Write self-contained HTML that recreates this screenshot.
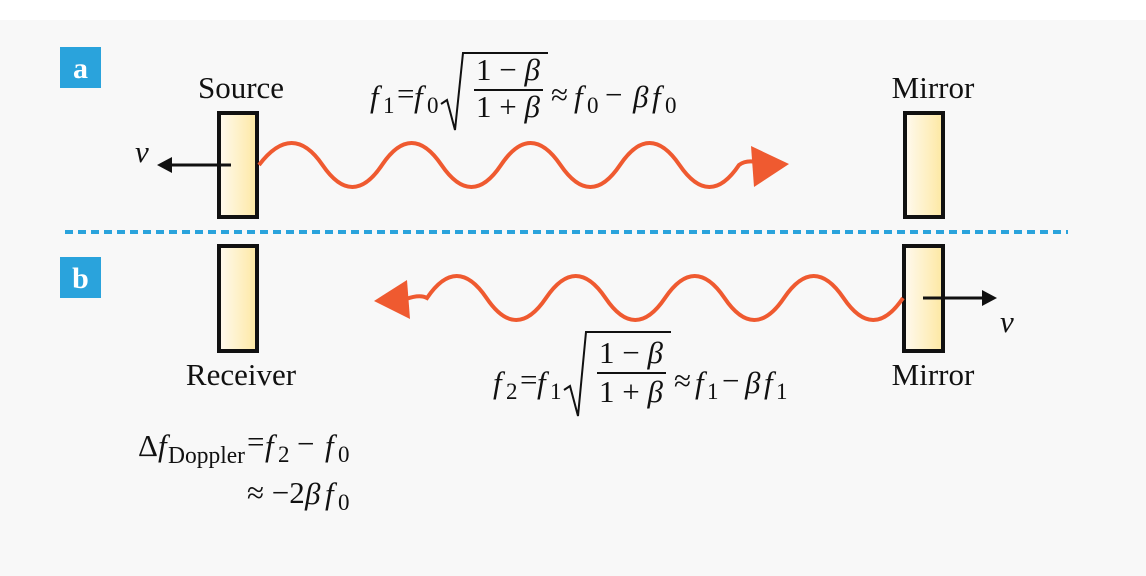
<!DOCTYPE html>
<html><head><meta charset="utf-8"><style>
html,body{margin:0;padding:0;background:#fff;}
svg{display:block;}
text{font-family:"Liberation Serif",serif;fill:#111;}
.it{font-style:italic;}
</style></head><body>
<svg width="1146" height="576" viewBox="0 0 1146 576" xmlns="http://www.w3.org/2000/svg">
<defs>
<linearGradient id="g" x1="0" x2="1" y1="0" y2="0">
<stop offset="0" stop-color="#fffaf0"/><stop offset="1" stop-color="#fde8a2"/>
</linearGradient>
</defs>
<rect x="0" y="0" width="1146" height="576" fill="#fff"/>
<rect x="0" y="20" width="1146" height="556" fill="#f8f8f8"/>

<rect x="60" y="47" width="41" height="41" fill="#2aa3dc"/>
<text x="80.5" y="78" text-anchor="middle" font-size="30" font-weight="bold" style="fill:#fff">a</text>
<rect x="60" y="257" width="41" height="41" fill="#2aa3dc"/>
<text x="80.5" y="288" text-anchor="middle" font-size="30" font-weight="bold" style="fill:#fff">b</text>

<line x1="65" y1="232" x2="1068" y2="232" stroke="#2aa3dc" stroke-width="4" stroke-dasharray="8,5"/>

<rect x="219" y="113" width="38" height="104" fill="url(#g)" stroke="#111" stroke-width="4"/>
<rect x="905" y="113" width="38" height="104" fill="url(#g)" stroke="#111" stroke-width="4"/>
<rect x="219" y="246" width="38" height="105" fill="url(#g)" stroke="#111" stroke-width="4"/>
<rect x="904" y="246" width="39" height="105" fill="url(#g)" stroke="#111" stroke-width="4"/>

<line x1="231" y1="165" x2="168" y2="165" stroke="#111" stroke-width="3"/>
<polygon points="157,165 172,157 172,173" fill="#111"/>
<text x="135" y="162" font-size="31" class="it">v</text>
<line x1="923" y1="298" x2="985" y2="298" stroke="#111" stroke-width="3"/>
<polygon points="997,298 982,290 982,306" fill="#111"/>
<text x="1000" y="332" font-size="31" class="it">v</text>

<path d="M259,165 Q292.5,121 322.5,165 T382,165 T441.5,165 T501,165 T560.5,165 T620,165 T679.5,165 T739,165 Q746,160 756,162" fill="none" stroke="#ef5a30" stroke-width="4"/>
<polygon points="789,164 751,146 754,187" fill="#ef5a30"/>
<path d="M903,298 Q873.25,342 843.5,298 T784,298 T724.5,298 T665,298 T605.5,298 T546,298 T486.5,298 T427,298 Q420,294 406,299" fill="none" stroke="#ef5a30" stroke-width="4"/>
<polygon points="374,301 407,280 410,319" fill="#ef5a30"/>

<text x="241" y="98" text-anchor="middle" font-size="31">Source</text>
<text x="933" y="98" text-anchor="middle" font-size="31">Mirror</text>
<text x="241" y="385" text-anchor="middle" font-size="31">Receiver</text>
<text x="933" y="385" text-anchor="middle" font-size="31">Mirror</text>

<g font-size="31">
<text x="370" y="107" class="it">f</text><text x="383" y="113" font-size="23">1</text>
<text x="397" y="104">=</text>
<text x="414" y="107" class="it">f</text><text x="427" y="113" font-size="23">0</text>
<polyline points="441,104 447,100 455,130 463,53 548,53" fill="none" stroke="#111" stroke-width="2"/>
<line x1="474" y1="90" x2="543" y2="90" stroke="#111" stroke-width="2"/>
<text x="476" y="80">1 − <tspan class="it">β</tspan></text>
<text x="476" y="117">1 + <tspan class="it">β</tspan></text>
<text x="551" y="105">≈</text>
<text x="574" y="107" class="it">f</text><text x="587" y="113" font-size="23">0</text>
<text x="605" y="105">−</text>
<text x="633" y="107" class="it">β</text><text x="652" y="107" class="it">f</text><text x="665" y="113" font-size="23">0</text>
</g>

<g font-size="31" transform="translate(123,286)">
<text x="370" y="107" class="it">f</text><text x="383" y="113" font-size="23">2</text>
<text x="397" y="104">=</text>
<text x="414" y="107" class="it">f</text><text x="427" y="113" font-size="23">1</text>
<polyline points="441,104 447,100 455,130 463,46 548,46" fill="none" stroke="#111" stroke-width="2"/>
<line x1="474" y1="87" x2="543" y2="87" stroke="#111" stroke-width="2"/>
<text x="476" y="77">1 − <tspan class="it">β</tspan></text>
<text x="476" y="116">1 + <tspan class="it">β</tspan></text>
<text x="551" y="105">≈</text>
<text x="572" y="107" class="it">f</text><text x="584" y="113" font-size="23">1</text>
<text x="599" y="105">−</text>
<text x="622" y="107" class="it">β</text><text x="641" y="107" class="it">f</text><text x="653" y="113" font-size="23">1</text>
</g>

<g font-size="31">
<text x="138" y="456">Δ</text><text x="158" y="456" class="it">f</text>
<text x="168" y="463" font-size="24" textLength="77" lengthAdjust="spacingAndGlyphs">Doppler</text>
<text x="247" y="452">=</text>
<text x="265" y="456" class="it">f</text><text x="278" y="462" font-size="23">2</text>
<text x="297" y="454">−</text>
<text x="325" y="456" class="it">f</text><text x="338" y="462" font-size="23">0</text>
<text x="247" y="503">≈ −2</text>
<text x="305" y="504" class="it">β</text><text x="325" y="504" class="it">f</text><text x="338" y="510" font-size="23">0</text>
</g>
</svg>
</body></html>
